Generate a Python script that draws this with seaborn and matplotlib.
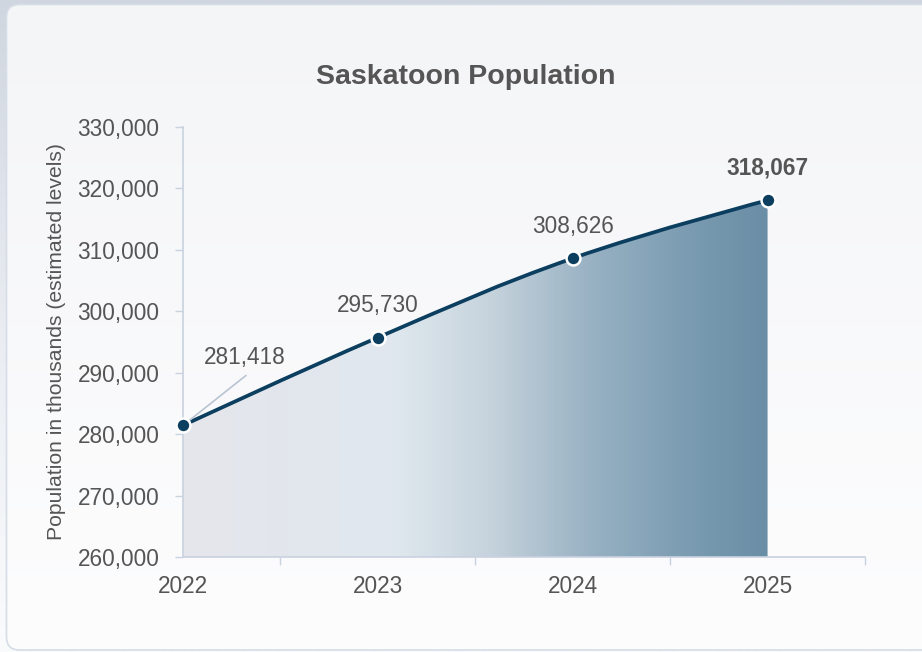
import numpy as np
import matplotlib
matplotlib.use("Agg")
import matplotlib.pyplot as plt
import seaborn as sns
from matplotlib.path import Path
from matplotlib.patches import PathPatch, FancyBboxPatch
from matplotlib.colors import LinearSegmentedColormap

# ---- data ----
years = ["2022", "2023", "2024", "2025"]
population = [281418, 295730, 308626, 318067]
y_ticks = [260000, 270000, 280000, 290000, 300000, 310000, 320000, 330000]
title = "Saskatoon Population"
y_label = "Population in thousands (estimated levels)"

# ---- style ----
sns.set_theme(style="white")
plt.rcParams["font.family"] = ["Liberation Sans", "DejaVu Sans"]
TEXT = "#555555"
AXIS = "#c9d2df"
LINE = "#0c3e5f"

W, H = 922, 652
fig = plt.figure(figsize=(W / 100, H / 100), dpi=100)

# ---- backdrop and rounded panel ----
bg = fig.add_axes([0, 0, 1, 1])
bg.set_axis_off()
bg.set_xlim(0, W)
bg.set_ylim(0, H)
outer = LinearSegmentedColormap.from_list("outer", ["#fafbfc", "#e9edf2", "#d0d6df"])
bg.imshow(np.linspace(0, 1, 256)[:, None][::-1], extent=[0, W, 0, H],
          aspect="auto", cmap=outer, origin="upper", zorder=0)
panel = FancyBboxPatch((6.5, 2), W + 30, H - 6.5,
                       boxstyle="round,pad=0,rounding_size=13",
                       facecolor="none", edgecolor="#d6dde6", lw=1.2, zorder=2)
inner = LinearSegmentedColormap.from_list("inner", ["#fdfdfe", "#f4f5f7"])
img = bg.imshow(np.linspace(0, 1, 256)[:, None], extent=[0, W, 0, H],
                aspect="auto", cmap=inner, origin="lower", zorder=1)
clip = FancyBboxPatch((6.5, 2), W + 30, H - 6.5,
                      boxstyle="round,pad=0,rounding_size=13",
                      transform=bg.transData, facecolor="none", edgecolor="none")
bg.add_patch(clip)
img.set_clip_path(clip)
bg.add_patch(panel)

# ---- main axes ----
ax = fig.add_axes([183 / W, 95 / H, 682 / W, 430 / H])
ax.patch.set_alpha(0)

x = np.arange(len(years), dtype=float)
y = np.array(population, dtype=float)


def spline_path(xs, ys, smoothing=1.5):
    """Smooth cubic Bezier path through the points (spline-style)."""
    n = len(xs)
    denom = smoothing + 1
    left = [None] * n
    right = [None] * n
    for i in range(1, n - 1):
        lx = (smoothing * xs[i] + xs[i - 1]) / denom
        ly = (smoothing * ys[i] + ys[i - 1]) / denom
        rx = (smoothing * xs[i] + xs[i + 1]) / denom
        ry = (smoothing * ys[i] + ys[i + 1]) / denom
        corr = ((ry - ly) * (rx - xs[i])) / (rx - lx) + ys[i] - ry
        ly += corr
        ry += corr
        if ly > max(ys[i - 1], ys[i]):
            ly = max(ys[i - 1], ys[i]); ry = 2 * ys[i] - ly
        elif ly < min(ys[i - 1], ys[i]):
            ly = min(ys[i - 1], ys[i]); ry = 2 * ys[i] - ly
        if ry > max(ys[i], ys[i + 1]):
            ry = max(ys[i], ys[i + 1]); ly = 2 * ys[i] - ry
        elif ry < min(ys[i], ys[i + 1]):
            ry = min(ys[i], ys[i + 1]); ly = 2 * ys[i] - ry
        left[i] = (lx, ly)
        right[i] = (rx, ry)
    verts = [(xs[0], ys[0])]
    codes = [Path.MOVETO]
    for i in range(n - 1):
        c1 = right[i] if right[i] is not None else (xs[i], ys[i])
        c2 = left[i + 1] if left[i + 1] is not None else (xs[i + 1], ys[i + 1])
        verts += [c1, c2, (xs[i + 1], ys[i + 1])]
        codes += [Path.CURVE4] * 3
    return verts, codes


verts, codes = spline_path(x, y)
base = y_ticks[0]

# gradient area under the curve
area_verts = verts + [(x[-1], base), (x[0], base), verts[0]]
area_codes = codes + [Path.LINETO, Path.LINETO, Path.CLOSEPOLY]
area = PathPatch(Path(area_verts, area_codes), facecolor="none",
                 edgecolor="none", transform=ax.transData)
ax.add_patch(area)
fill_cmap = LinearSegmentedColormap.from_list(
    "fill",
    [(0.0, "#e5e6eb"), (0.36, "#e0e8ef"), (0.52, "#c7d4dd"),
     (0.70, "#98b1c3"), (0.86, "#7b9cb2"), (1.0, "#6a8ea6")])
grad = ax.imshow(np.linspace(0, 1, 512)[None, :],
                 extent=[x[0], x[-1], base, y_ticks[-1]],
                 aspect="auto", cmap=fill_cmap, origin="lower", zorder=1)
grad.set_clip_path(area)

# smooth line
ax.add_patch(PathPatch(Path(verts, codes), facecolor="none", edgecolor=LINE,
                       lw=2.7, capstyle="round", zorder=3))

# markers
sns.scatterplot(x=x, y=y, ax=ax, s=100, color=LINE, edgecolor="white",
                linewidth=1.8, zorder=5, legend=False, clip_on=False)

# data labels
for i, (xi, yi) in enumerate(zip(x, y)):
    txt = f"{population[i]:,}"
    if i == 0:
        ax.annotate("", xy=(xi, yi), xytext=(63, 50), textcoords="offset pixels",
                    arrowprops=dict(arrowstyle="-", color="#b8c4d2", lw=1.2,
                                    shrinkA=0, shrinkB=3), zorder=4)
        ax.annotate(txt, xy=(xi, yi), xytext=(62, 68), textcoords="offset pixels",
                    ha="center", va="center", fontsize=16.3, color=TEXT, zorder=6)
    else:
        bold = i == len(years) - 1
        ax.annotate(txt, xy=(xi, yi), xytext=(0, 32), textcoords="offset pixels",
                    ha="center", va="center", fontsize=16.3, color=TEXT,
                    fontweight="bold" if bold else "normal", zorder=6)

# ---- axes styling ----
ax.set_xlim(0, 3.5)
ax.set_ylim(y_ticks[0], y_ticks[-1])
ax.set_xticks(x, labels=years)
ax.set_xticks([0.5, 1.5, 2.5, 3.5], minor=True)
ax.set_yticks(y_ticks, labels=[f"{v:,}" for v in y_ticks])
ax.tick_params(axis="x", which="major", length=0, pad=13,
               labelsize=16.3, labelcolor=TEXT)
ax.tick_params(axis="x", which="minor", length=6, width=1, color=AXIS,
               direction="out", bottom=True)
ax.tick_params(axis="y", which="major", length=6, width=1, color=AXIS,
               direction="out", left=True, pad=11, labelsize=16.3,
               labelcolor=TEXT)
for side in ("top", "right"):
    ax.spines[side].set_visible(False)
for side in ("left", "bottom"):
    ax.spines[side].set_color(AXIS)
    ax.spines[side].set_linewidth(1.2)
ax.grid(False)
ax.set_xlabel("")
ax.set_ylabel("")

fig.text(466 / W, 1 - 77 / H, title, ha="center", va="center",
         fontsize=20.5, fontweight="bold", color=TEXT)
fig.text(57 / W, 1 - 342 / H, y_label, ha="center", va="center",
         rotation=90, fontsize=15.2, color=TEXT)

fig.savefig("out.png", dpi=100)
